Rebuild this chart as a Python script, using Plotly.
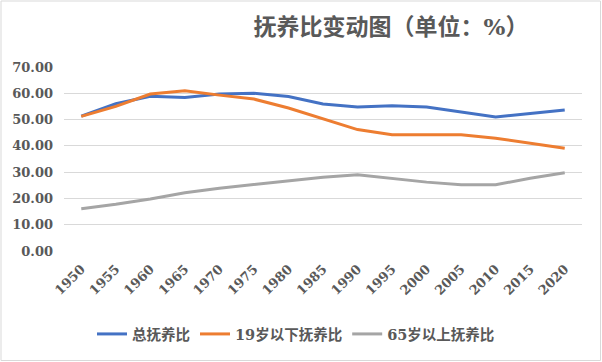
import plotly.graph_objects as go

years = ["1950", "1955", "1960", "1965", "1970", "1975", "1980", "1985",
         "1990", "1995", "2000", "2005", "2010", "2015", "2020"]
total = [51.3, 56.0, 58.9, 58.4, 59.7, 60.0, 58.8, 55.9, 54.8, 55.3, 54.8, 52.9, 51.0, 52.3, 53.6]
under19 = [51.2, 55.0, 59.7, 61.0, 59.3, 57.8, 54.4, 50.3, 46.2, 44.2, 44.2, 44.2, 42.9, 41.0, 39.1]
over65 = [16.1, 17.8, 19.8, 22.2, 23.9, 25.3, 26.8, 28.1, 29.0, 27.7, 26.2, 25.2, 25.2, 27.7, 29.8]
names = ["总抚养比", "19岁以下抚养比", "65岁以上抚养比"]
colors = ["#4472C4", "#ED7D31", "#A5A5A5"]
y_ticks = [0, 10, 20, 30, 40, 50, 60, 70]

FONT = "DejaVu Serif, Noto Sans CJK SC, serif"
TXT = "#595959"

fig = go.Figure()
for name, vals, c in zip(names, [total, under19, over65], colors):
    fig.add_trace(go.Scatter(x=years, y=vals, name=f"<b>{name}</b>", mode="lines",
                             line=dict(color=c, width=3)))

W, H = 602, 362
ml, mr, mt, mb = 64, 20, 67, 111
pw, ph = W - ml - mr, H - mt - mb

fig.update_layout(
    width=W, height=H,
    margin=dict(l=ml, r=mr, t=mt, b=mb, autoexpand=False),
    paper_bgcolor="white", plot_bgcolor="white",
    font=dict(family=FONT, color=TXT, size=14),
    title=dict(text="<b>抚养比变动图（单位：%）</b>", x=391 / W, xanchor="center",
               y=1 - 27 / H, yanchor="middle", yref="container",
               font=dict(size=23, color=TXT, family=FONT)),
    showlegend=True,
    legend=dict(orientation="h", x=(92 - ml) / pw, xanchor="left",
                y=(H - 334 - mb) / ph, yanchor="middle",
                font=dict(size=14.5, color=TXT, family=FONT),
                itemwidth=30, tracegroupgap=0),
    xaxis=dict(type="category", range=[-0.5, len(years) - 0.5], tickangle=-45,
               tickvals=years, ticktext=[f"<b>{y}</b>" for y in years],
               showgrid=False, showline=False, ticks="", zeroline=False,
               automargin=False, ticklabelstandoff=7,
               tickfont=dict(size=13, color=TXT, family=FONT)),
    yaxis=dict(range=[0, 70], tickvals=y_ticks,
               ticktext=[f"<b>{v:.2f}</b>" for v in y_ticks],
               showgrid=True, gridcolor="#D9D9D9", gridwidth=1,
               zeroline=False, showline=False, ticks="", automargin=False,
               ticklabelstandoff=10,
               tickfont=dict(size=13, color=TXT, family=FONT)),
)

fig.add_shape(type="rect", xref="paper", yref="paper",
              x0=(1 - ml) / pw, x1=(600.5 - ml) / pw,
              y0=(H - 360.5 - mb) / ph, y1=(H - 1 - mb) / ph,
              line=dict(color="#D9D9D9", width=1), fillcolor="rgba(0,0,0,0)")

fig.write_html("out.html", config={"displayModeBar": False},
               post_script="document.body.style.margin='0px';")
